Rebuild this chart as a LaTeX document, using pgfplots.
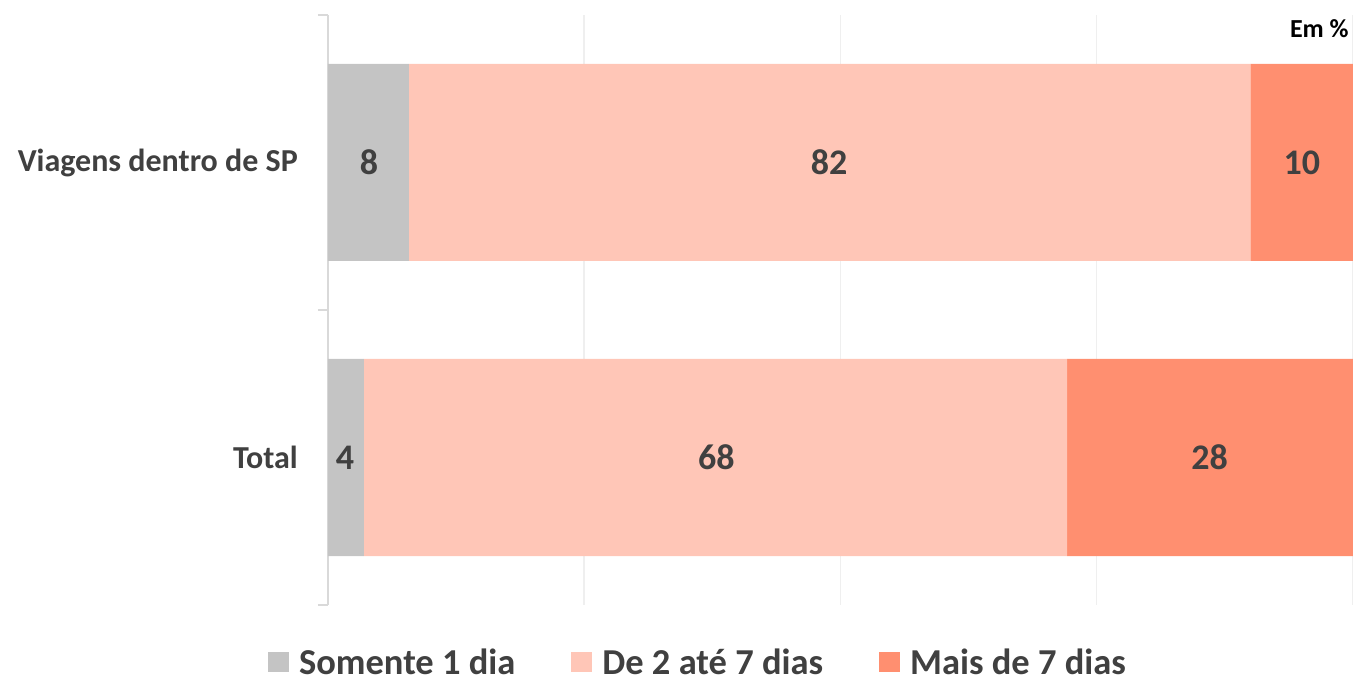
\documentclass[border=0pt]{standalone}
\usepackage{fontspec}
\setmainfont{Carlito}
\usepackage{pgfplots}
\pgfplotsset{compat=1.18}
\definecolor{cgray}{HTML}{C4C4C4}
\definecolor{clight}{HTML}{FFC6B7}
\definecolor{csalmon}{HTML}{FF8F70}
\definecolor{ctext}{HTML}{404040}
\definecolor{cgrid}{HTML}{EFEFEF}
\definecolor{caxis}{HTML}{D9D9D9}
\begin{document}
\begin{tikzpicture}[x=1pt,y=1pt]
\begin{axis}[
  at={(0pt,0pt)}, anchor=south west,
  scale only axis, width=1025pt, height=590pt,
  xbar stacked, bar width=197pt,
  xmin=0, xmax=100, ymin=-0.5, ymax=1.5,
  axis y line*=left, axis x line*=bottom,
  x axis line style={draw=none},
  y axis line style={draw=caxis, line width=1.5pt},
  xtick={25,50,75,100}, xticklabels={}, xmajorgrids,
  major x tick style={draw=none},
  major grid style={draw=cgrid, line width=1.5pt},
  ytick={0,1}, yticklabels={Total,Viagens dentro de SP},
  major y tick style={draw=none},
  minor ytick={-0.5,0.5,1.5},
  minor y tick style={draw=caxis, line width=1.5pt},
  tick align=outside, major tick length=0pt, minor tick length=10pt,
  yticklabel style={font=\bfseries\fontsize{32}{36}\selectfont, text=ctext, inner sep=0pt, anchor=east, xshift=-30pt},
  legend columns=3,
  legend style={at={(0.361,-0.0966)}, anchor=center, draw=none, fill=none,
    font=\bfseries\fontsize{36.5}{40}\selectfont, text=ctext,
    nodes={inner ysep=1pt},
    /tikz/every odd column/.append style={column sep=8pt},
    /tikz/every even column/.append style={column sep=54pt}},
  legend image code/.code={\fill[#1] (0pt,-10pt) rectangle (21pt,10pt);},
  clip=false,
]
\addplot[fill=cgray, draw=none] coordinates {(3.5,0) (7.9,1)};
\addplot[fill=clight, draw=none] coordinates {(68.6,0) (82.1,1)};
\addplot[fill=csalmon, draw=none] coordinates {(27.9,0) (10.0,1)};
\legend{Somente 1 dia, De 2 até 7 dias, Mais de 7 dias}
\node[anchor=east, inner sep=0pt, font=\bfseries\fontsize{26}{30}\selectfont, text=black] at (rel axis cs:0.996,0.977) {Em \%};
\end{axis}
\begin{axis}[
  at={(0pt,0pt)}, anchor=south west,
  scale only axis, width=1025pt, height=590pt,
  xmin=0, xmax=100, ymin=-0.5, ymax=1.5, hide axis, clip=false,
]
\addplot[only marks, mark=none, point meta=explicit symbolic, nodes near coords,
  every node near coord/.append style={anchor=center, font=\bfseries\fontsize{36}{40}\selectfont, text=ctext}]
  coordinates {(4.0,1)[8] (48.9,1)[82] (95.0,1)[10] (1.66,0)[4] (37.9,0)[68] (86.0,0)[28]};
\end{axis}
\pgfresetboundingbox
\path[use as bounding box] (-328pt,-76pt) rectangle (1025pt,605pt);
\end{tikzpicture}
\end{document}
